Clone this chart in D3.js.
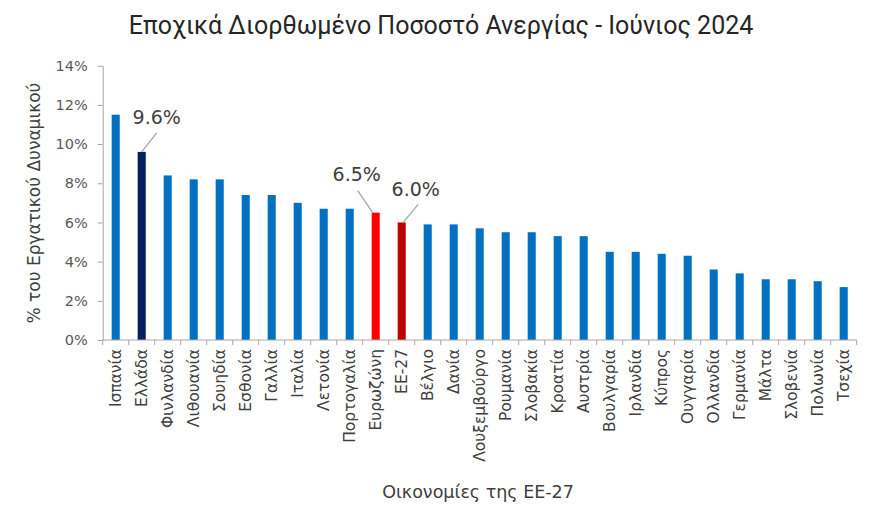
<!DOCTYPE html>
<html>
<head>
<meta charset="utf-8">
<script src="https://cdn.jsdelivr.net/npm/d3@7/dist/d3.min.js"></script>
<style>
  html, body { margin: 0; padding: 0; background: #fff; }
  svg { display: block; }
</style>
</head>
<body>
<svg id="chart" width="880" height="529"></svg>
<script>
const categories = ["Ισπανία","Ελλάδα","Φινλανδία","Λιθουανία","Σουηδία","Εσθονία","Γαλλία","Ιταλία","Λετονία","Πορτογαλία","Ευρωζώνη","ΕΕ-27","Βέλγιο","Δανία","Λουξεμβούργο","Ρουμανία","Σλοβακία","Κροατία","Αυστρία","Βουλγαρία","Ιρλανδία","Κύπρος","Ουγγαρία","Ολλανδία","Γερμανία","Μάλτα","Σλοβενία","Πολωνία","Τσεχία"];
const values = [11.5,9.6,8.4,8.2,8.2,7.4,7.4,7.0,6.7,6.7,6.5,6.0,5.9,5.9,5.7,5.5,5.5,5.3,5.3,4.5,4.5,4.4,4.3,3.6,3.4,3.1,3.1,3.0,2.7];
const yTicks = [0,2,4,6,8,10,12,14];
const highlighted = {"Ελλάδα":"#002060","Ευρωζώνη":"#FF0000","ΕΕ-27":"#C00000"};
const annotated = ["Ελλάδα","Ευρωζώνη","ΕΕ-27"];
const title = "Εποχικά Διορθωμένο Ποσοστό Ανεργίας - Ιούνιος 2024";
const yTitle = "% του Εργατικού Δυναμικού";
const xTitle = "Οικονομίες της ΕΕ-27";

(function () {
const data = categories.map((c, i) => ({ c, v: values[i] }));
const svg = d3.select("#chart");
const font = "'DejaVu Sans', sans-serif";
const pL = 102.7, pR = 856.7, pT = 65.7, pB = 340;

const x = d3.scaleBand().domain(categories).range([pL, pR]).paddingInner(0.69).paddingOuter(0.345);
const y = d3.scaleLinear().domain([0, 14]).range([pB, pT]);

// title
svg.append("text").attr("x", 441).attr("y", 34).attr("text-anchor", "middle")
  .attr("font-family", "Roboto, sans-serif").attr("font-size", 25).attr("fill", "#262626").text(title);

// bars
svg.append("g").selectAll("rect").data(data).join("rect")
  .attr("x", d => x(d.c)).attr("width", x.bandwidth())
  .attr("y", d => y(d.v)).attr("height", d => y(0) - y(d.v))
  .attr("fill", d => highlighted[d.c] || "#0070C0");

// y axis
const yAxis = svg.append("g").attr("transform", `translate(${pL},0)`)
  .call(d3.axisLeft(y).tickValues(yTicks).tickFormat(d => d + "%").tickSize(5).tickSizeOuter(0));
yAxis.select(".domain").attr("stroke", "#A6A6A6");
yAxis.selectAll(".tick line").attr("stroke", "#A6A6A6");
yAxis.selectAll(".tick text").attr("font-family", font).attr("font-size", 14.5).attr("fill", "#595959").attr("x", -15);

// x axis with boundary ticks
const xg = svg.append("g").attr("transform", `translate(0,${pB})`);
xg.append("line").attr("x1", pL).attr("x2", pR).attr("stroke", "#A6A6A6");
const step = x.step();
const bounds = d3.range(categories.length + 1).map(i => pL + i * step);
xg.selectAll(".bt").data(bounds).join("line").attr("class", "bt")
  .attr("x1", d => d).attr("x2", d => d).attr("y1", 0).attr("y2", 5).attr("stroke", "#A6A6A6");
xg.selectAll(".xl").data(categories).join("text").attr("class", "xl")
  .attr("transform", d => `translate(${x(d) + x.bandwidth() / 2 + 5},9) rotate(-90)`)
  .attr("text-anchor", "end").attr("font-family", font).attr("font-size", 15.5).attr("fill", "#404040").text(d => d);

// annotations (leader line direction per label)
const annLayout = {
  "Ελλάδα":   { l0: [0, 0],   l1: [15, -19],   t: [15, -28] },
  "Ευρωζώνη": { l0: [-3, 0],  l1: [-18, -22],  t: [-19, -32] },
  "ΕΕ-27":    { l0: [1.5, 0], l1: [16.5, -18], t: [14, -26] }
};
const annGroup = svg.append("g");
data.filter(d => annotated.includes(d.c)).forEach(d => {
  const bx = x(d.c) + x.bandwidth() / 2;
  const by = y(d.v);
  const L = annLayout[d.c];
  annGroup.append("line")
    .attr("x1", bx + L.l0[0]).attr("y1", by + L.l0[1])
    .attr("x2", bx + L.l1[0]).attr("y2", by + L.l1[1])
    .attr("stroke", "#A6A6A6").attr("stroke-width", 1.3);
  annGroup.append("text").attr("x", bx + L.t[0]).attr("y", by + L.t[1]).attr("text-anchor", "middle")
    .attr("font-family", font).attr("font-size", 19).attr("fill", "#404040").text(d3.format(".1f")(d.v) + "%");
});

// axis titles
svg.append("text").attr("transform", `translate(40,203) rotate(-90)`).attr("text-anchor", "middle")
  .attr("font-family", font).attr("font-size", 17).attr("fill", "#404040").text(yTitle);
svg.append("text").attr("x", 478).attr("y", 498).attr("text-anchor", "middle")
  .attr("font-family", font).attr("font-size", 17.5).attr("fill", "#404040").text(xTitle);
})();
</script>
</body>
</html>
